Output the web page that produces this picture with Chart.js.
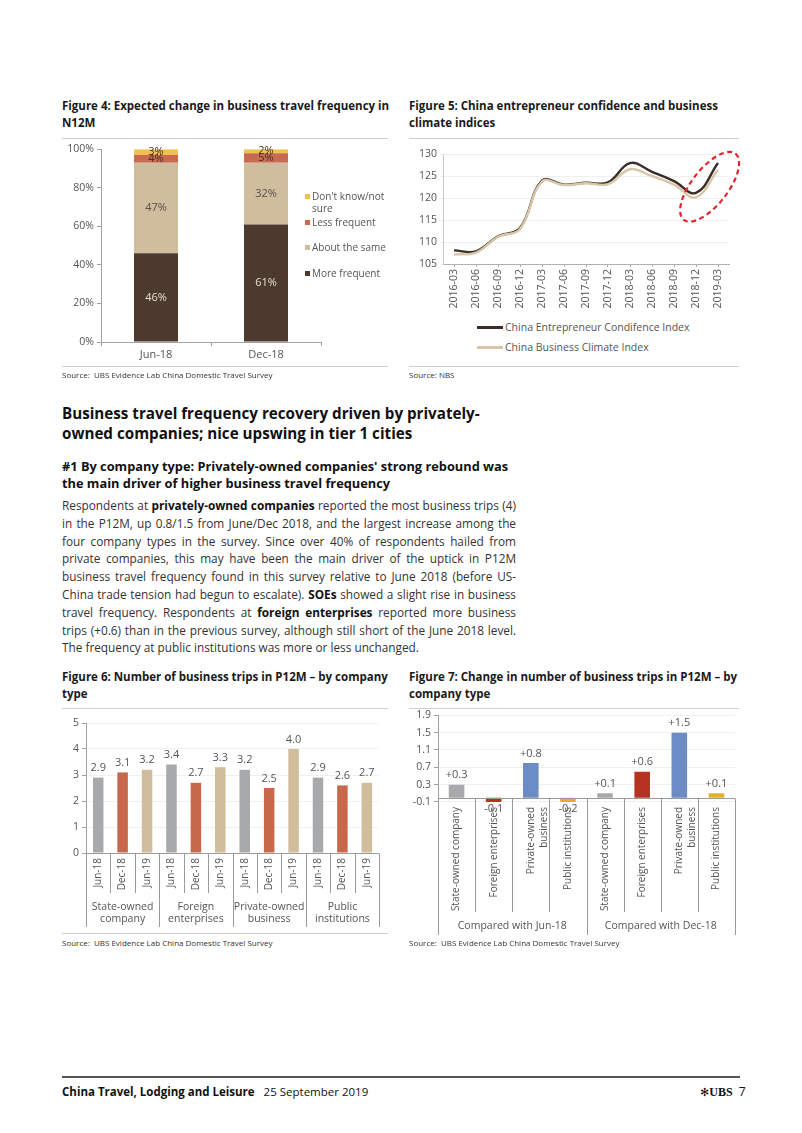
<!DOCTYPE html>
<html>
<head>
<meta charset="utf-8">
<script src="https://cdn.jsdelivr.net/npm/chart.js@4.4.1/dist/chart.umd.min.js"></script>
<style>
  body { margin: 0; background: #fff; font-family: "Open Sans", sans-serif; color: #222; }
  #page { position: relative; width: 802px; height: 1133px; overflow: hidden; background: #fff; }
  .abs { position: absolute; white-space: nowrap; }
  .ftitle { font-weight: 700; font-size: 11.5px; line-height: 17px; color: #1a1a1a; }
  .rule { position: absolute; height: 1px; background: #cfcfcf; }
  .src { font-size: 8px; color: #333; }
  .leg { font-size: 10px; color: #555; line-height: 12px; }
  .sq { position: absolute; width: 5px; height: 5px; }
  .h1 { font-weight: 700; font-size: 15.2px; line-height: 20px; color: #111; }
  .h2 { font-weight: 700; font-size: 12.8px; line-height: 17px; color: #111; }
  .body { font-size: 11.8px; line-height: 17.8px; color: #333; width: 454px; }
  .body div { text-align: justify; text-align-last: justify; white-space: nowrap; }
  .body div.last { text-align-last: left; }
  .body b { font-weight: 700; color: #111; }
  canvas { position: absolute; }
</style>
</head>
<body>
<div id="page">
  <!-- Figure 4 -->
  <div class="abs ftitle" style="left:62px;top:97px">Figure 4: Expected change in business travel frequency in<br>N12M</div>
  <div class="rule" style="left:62px;top:138px;width:326px"></div>
  <canvas id="fig4" width="262" height="230" style="left:62px;top:140px"></canvas>
  <div id="leg4"></div>
  <div class="rule" style="left:62px;top:366px;width:326px"></div>
  <div class="abs src" style="left:62px;top:369px">Source:&nbsp; UBS Evidence Lab China Domestic Travel Survey</div>

  <!-- Figure 5 -->
  <div class="abs ftitle" style="left:409px;top:97px">Figure 5: China entrepreneur confidence and business<br>climate indices</div>
  <div class="rule" style="left:409px;top:138px;width:330px"></div>
  <canvas id="fig5" width="337" height="170" style="left:409px;top:145px"></canvas>
  <div id="leg5"></div>
  <div class="rule" style="left:409px;top:366px;width:330px"></div>
  <div class="abs src" style="left:409px;top:369px">Source: NBS</div>

  <!-- Text -->
  <div class="abs h1" style="left:62px;top:403px">Business travel frequency recovery driven by privately-<br>owned companies; nice upswing in tier 1 cities</div>
  <div class="abs h2" style="left:62px;top:458px">#1 By company type: Privately-owned companies' strong rebound was<br>the main driver of higher business travel frequency</div>
  <div class="abs body" style="left:62px;top:497px">
    <div>Respondents at <b>privately-owned companies</b> reported the most business trips (4)</div>
    <div>in the P12M, up 0.8/1.5 from June/Dec 2018, and the largest increase among the</div>
    <div>four company types in the survey. Since over 40% of respondents hailed from</div>
    <div>private companies, this may have been the main driver of the uptick in P12M</div>
    <div>business travel frequency found in this survey relative to June 2018 (before US-</div>
    <div>China trade tension had begun to escalate). <b>SOEs</b> showed a slight rise in business</div>
    <div>travel frequency. Respondents at <b>foreign enterprises</b> reported more business</div>
    <div>trips (+0.6) than in the previous survey, although still short of the June 2018 level.</div>
    <div class="last">The frequency at public institutions was more or less unchanged.</div>
  </div>

  <!-- Figure 6 -->
  <div class="abs ftitle" style="left:62px;top:668px">Figure 6: Number of business trips in P12M – by company<br>type</div>
  <div class="rule" style="left:62px;top:708px;width:326px"></div>
  <canvas id="fig6" width="322" height="218" style="left:62px;top:712px"></canvas>
  <div class="rule" style="left:62px;top:933px;width:326px"></div>
  <div class="abs src" style="left:62px;top:937px">Source:&nbsp; UBS Evidence Lab China Domestic Travel Survey</div>

  <!-- Figure 7 -->
  <div class="abs ftitle" style="left:409px;top:668px">Figure 7: Change in number of business trips in P12M – by<br>company type</div>
  <div class="rule" style="left:409px;top:708px;width:330px"></div>
  <canvas id="fig7" width="330" height="232" style="left:409px;top:706px"></canvas>
  <div class="abs src" style="left:409px;top:937px">Source:&nbsp; UBS Evidence Lab China Domestic Travel Survey</div>

  <!-- Footer -->
  <div style="position:absolute;left:62px;top:1076px;width:678px;height:1.5px;background:#555"></div>
  <div class="abs" style="left:62px;top:1084px;font-size:11.5px;color:#111"><b>China Travel, Lodging and Leisure</b>&nbsp;&nbsp; 25 September 2019</div>
  <div class="abs" style="left:700px;top:1083px;font-size:12px;color:#111"><span style="font-family:'DejaVu Sans';font-size:11px">✻</span><span style="font-family:'Liberation Serif';font-weight:700">UBS</span>&nbsp; 7</div>
</div>

<script>
// ---- data ----
const fig4Cats = ["Jun-18", "Dec-18"];
const fig4Names = ["More frequent", "About the same", "Less frequent", "Don't know/not sure"];
const fig4More = [46, 61];
const fig4Same = [47, 32];
const fig4Less = [4, 5];
const fig4DontKnow = [3, 2];

const fig5Labels = ["2016-03", "2016-06", "2016-09", "2016-12", "2017-03", "2017-06", "2017-09",
  "2017-12", "2018-03", "2018-06", "2018-09", "2018-12", "2019-03"];
const fig5Confidence = [108.1, 107.9, 111.3, 113.2, 124.0, 123.1, 123.5, 123.6, 128.0, 126.0, 123.9, 121.2, 128.0];
const fig5Climate = [107.2, 107.6, 111.2, 113.0, 123.8, 123.0, 123.4, 123.2, 126.6, 125.0, 123.1, 120.2, 126.5];

const fig6Periods = ["Jun-18", "Dec-18", "Jun-19"];
const fig6Groups = [["State-owned", "company"], ["Foreign", "enterprises"], ["Private-owned", "business"], ["Public", "institutions"]];
const fig6StateOwned = [2.9, 3.1, 3.2];
const fig6Foreign = [3.4, 2.7, 3.3];
const fig6Private = [3.2, 2.5, 4.0];
const fig6Public = [2.9, 2.6, 2.7];

const fig7Types = ["State-owned company", "Foreign enterprises", ["Private-owned", "business"], "Public institutions"];
const fig7Compare = ["Compared with Jun-18", "Compared with Dec-18"];
const fig7VsJun18 = [0.3, -0.1, 0.8, -0.2];
const fig7VsDec18 = [0.1, 0.6, 1.5, 0.1];
const fig7Ticks = [-0.1, 0.3, 0.7, 1.1, 1.5, 1.9];

// ---- colours ----
const fig4Colors = ["#4b3a2d", "#cfbd9d", "#c86a4f", "#f1c14f"];
const fig6Colors = ["#a8a9ab", "#c8684b", "#cfbd9b"];
const fig7Colors = ["#a9a9ab", "#b63223", "#6b8cc4", "#e2b12c"];

Chart.defaults.font.family = '"Open Sans", sans-serif';
Chart.defaults.color = "#555";
Chart.defaults.animation = false;

// labels on bars (no datalabels plugin available)
const barLabels = {
  id: "barLabels",
  afterDatasetsDraw(chart, args, opts) {
    if (!opts.format) return;
    const { ctx, chartArea } = chart;
    ctx.save();
    ctx.font = opts.font;
    ctx.textAlign = "center";
    chart.data.datasets.forEach((ds, di) => {
      chart.getDatasetMeta(di).data.forEach((bar, i) => {
        const v = ds.data[i];
        ctx.fillStyle = typeof opts.color === "function" ? opts.color(di, i) : opts.color;
        if (opts.center) {
          ctx.textBaseline = "middle";
          ctx.fillText(opts.format(v), bar.x, (bar.y + bar.base) / 2);
        } else if (v >= 0) {
          ctx.textBaseline = "bottom";
          ctx.fillText(opts.format(v), bar.x, bar.y - 4);
        } else {
          ctx.textBaseline = "top";
          ctx.fillText(opts.format(v), bar.x, Math.min(bar.y, chartArea.bottom) + 1);
        }
      });
    });
    ctx.restore();
  }
};

// separators between categories and groups, plus the zero line
const groupLines = {
  id: "groupLines",
  afterDraw(chart, args, opts) {
    if (!opts.groupSize) return;
    const { ctx, chartArea, scales } = chart;
    const x = scales.x, x2 = scales.x2;
    const y0 = Math.round(scales.y.getPixelForValue(0)) + 0.5;
    const n = chart.data.labels.length;
    ctx.save();
    ctx.strokeStyle = "#9a9a9a";
    ctx.lineWidth = 1;
    ctx.beginPath();
    ctx.moveTo(chartArea.left, y0);
    ctx.lineTo(chartArea.right, y0);
    for (let i = 0; i <= n; i++) {
      let px;
      if (i === 0) px = chartArea.left;
      else if (i === n) px = chartArea.right;
      else px = (x.getPixelForValue(i - 1) + x.getPixelForValue(i)) / 2;
      px = Math.round(px) + 0.5;
      const bottom = i % opts.groupSize === 0 ? x2.bottom : x.bottom;
      ctx.moveTo(px, y0);
      ctx.lineTo(px, bottom);
    }
    ctx.stroke();
    ctx.restore();
  }
};

// dashed red ellipse on figure 5
const ellipseMark = {
  id: "ellipseMark",
  afterDraw(chart, args, opts) {
    if (opts.at == null) return;
    const { ctx, scales } = chart;
    const cx = scales.x.getPixelForValue(opts.at);
    const cy = scales.y.getPixelForValue(opts.level);
    ctx.save();
    ctx.strokeStyle = "#e0262d";
    ctx.lineWidth = 2.2;
    ctx.setLineDash([5, 3.5]);
    ctx.beginPath();
    ctx.ellipse(cx, cy, 42, 18, -52 * Math.PI / 180, 0, Math.PI * 2);
    ctx.stroke();
    ctx.restore();
  }
};

Chart.register(barLabels, groupLines, ellipseMark);

// ---- Figure 4 ----
const fig4Data = [fig4More, fig4Same, fig4Less, fig4DontKnow];
new Chart(document.getElementById("fig4"), {
  type: "bar",
  data: {
    labels: fig4Cats,
    datasets: fig4Data.map((d, k) => ({
      label: fig4Names[k], data: d, backgroundColor: fig4Colors[k],
      barPercentage: 0.4, categoryPercentage: 1
    }))
  },
  options: {
    responsive: false,
    layout: { padding: { top: 9, right: 3 } },
    plugins: {
      legend: { display: false }, tooltip: { enabled: false },
      barLabels: {
        center: true, font: '11px "Open Sans"',
        format: v => v + "%",
        color: (di) => di === 0 ? "#e6ddd3" : (di === 1 ? "#5a5048" : "#4a3024")
      }
    },
    scales: {
      x: {
        stacked: true,
        grid: { drawOnChartArea: false, tickLength: 4, color: "#a0a0a0" },
        border: { color: "#a0a0a0" },
        ticks: { font: { size: 11 }, padding: 2 },
        afterFit: s => { s.height = 28; }
      },
      y: {
        stacked: true, min: 0, max: 100,
        grid: { drawOnChartArea: false, tickLength: 4, color: "#a0a0a0" },
        border: { color: "#a0a0a0" },
        ticks: { stepSize: 20, callback: v => v + "%", font: { size: 10.5 }, padding: 3 },
        afterFit: s => { s.width = 39; }
      }
    }
  }
});

// legend for figure 4 (top to bottom, reverse of stacking)
const leg4Tops = [190, 216, 241, 267];
const leg4 = document.getElementById("leg4");
[3, 2, 1, 0].forEach((k, j) => {
  const name = fig4Names[k].replace("know/not ", "know/not<br>");
  leg4.insertAdjacentHTML("beforeend",
    `<div class="sq" style="left:305px;top:${leg4Tops[j] + 4}px;background:${fig4Colors[k]}"></div>` +
    `<div class="abs leg" style="left:312px;top:${leg4Tops[j]}px">${name}</div>`);
});

// ---- Figure 5 ----
const fig5Series = [
  { label: "China Entrepreneur Condifence Index", data: fig5Confidence, color: "#3a2d27", order: 2 },
  { label: "China Business Climate Index", data: fig5Climate, color: "#d7c6a8", order: 1 }
];
new Chart(document.getElementById("fig5"), {
  type: "line",
  data: {
    labels: fig5Labels,
    datasets: fig5Series.map(s => ({
      label: s.label, data: s.data, borderColor: s.color, borderWidth: 2.4,
      pointRadius: 0, tension: 0.4, fill: false, order: s.order
    }))
  },
  options: {
    responsive: false,
    layout: { padding: { top: 9, right: 17 } },
    plugins: {
      legend: { display: false }, tooltip: { enabled: false },
      ellipseMark: { at: 11.62, level: 122.6 }
    },
    scales: {
      x: {
        offset: true,
        grid: { drawOnChartArea: false, tickLength: 3, color: "#b0b0b0" },
        border: { color: "#b0b0b0" },
        ticks: { minRotation: 90, maxRotation: 90, autoSkip: false, font: { size: 10.5 }, padding: 2 },
        afterFit: s => { s.height = 51; }
      },
      y: {
        min: 105, max: 130,
        grid: { color: "#efefef", tickLength: 3 },
        border: { color: "#c8c8c8" },
        ticks: { stepSize: 5, font: { size: 10.5 }, padding: 3 },
        afterFit: s => { s.width = 34; }
      }
    }
  }
});

const leg5 = document.getElementById("leg5");
const leg5Tops = [321, 341];
fig5Series.forEach((s, j) => {
  leg5.insertAdjacentHTML("beforeend",
    `<div style="position:absolute;left:477px;top:${leg5Tops[j] + 5}px;width:26px;height:2.5px;background:${s.color}"></div>` +
    `<div class="abs leg" style="left:505px;top:${leg5Tops[j]}px;font-size:10.5px">${s.label}</div>`);
});

// ---- Figure 6 ----
const fig6Values = [fig6StateOwned, fig6Foreign, fig6Private, fig6Public].flat();
new Chart(document.getElementById("fig6"), {
  type: "bar",
  data: {
    labels: fig6Groups.flatMap(() => fig6Periods),
    datasets: [{
      data: fig6Values,
      backgroundColor: fig6Values.map((v, i) => fig6Colors[i % 3]),
      barPercentage: 0.43, categoryPercentage: 1
    }]
  },
  options: {
    responsive: false,
    layout: { padding: { top: 11, right: 4, bottom: 3 } },
    plugins: {
      legend: { display: false }, tooltip: { enabled: false },
      barLabels: { font: '11px "Open Sans"', color: "#555", format: v => v.toFixed(1) },
      groupLines: { groupSize: 3 }
    },
    scales: {
      x: {
        grid: { display: false, drawTicks: false }, border: { display: false },
        ticks: { minRotation: 90, maxRotation: 90, autoSkip: false, font: { size: 10 }, padding: 5 },
        afterFit: s => { s.height = 40; }
      },
      x2: {
        type: "category", labels: fig6Groups, position: "bottom", offset: true,
        grid: { display: false, drawTicks: false }, border: { display: false },
        ticks: { maxRotation: 0, autoSkip: false, font: { size: 10.5, lineHeight: 1.05 }, padding: 9, color: "#555" },
        afterFit: s => { s.height = 34; }
      },
      y: {
        min: 0, max: 5,
        grid: { color: "#f0f0f0", tickLength: 4, tickColor: "#a0a0a0" },
        border: { color: "#a0a0a0" },
        ticks: { stepSize: 1, font: { size: 10.5 }, padding: 3 },
        afterFit: s => { s.width = 24; }
      }
    }
  }
});

// ---- Figure 7 ----
const fig7Values = fig7VsJun18.concat(fig7VsDec18);
new Chart(document.getElementById("fig7"), {
  type: "bar",
  data: {
    labels: fig7Compare.flatMap(() => fig7Types),
    datasets: [{
      data: fig7Values,
      backgroundColor: fig7Values.map((v, i) => fig7Colors[i % 4]),
      barPercentage: 0.42, categoryPercentage: 1
    }]
  },
  options: {
    responsive: false,
    layout: { padding: { top: 9, right: 4, bottom: 3 } },
    plugins: {
      legend: { display: false }, tooltip: { enabled: false },
      barLabels: { font: '11px "Open Sans"', color: "#555", format: v => (v > 0 ? "+" : "") + v.toFixed(1) },
      groupLines: { groupSize: 4 }
    },
    scales: {
      x: {
        grid: { display: false, drawTicks: false }, border: { display: false },
        ticks: { minRotation: 90, maxRotation: 90, autoSkip: false, font: { size: 10, lineHeight: 1.3 }, padding: 5 },
        afterFit: s => { s.height = 110; }
      },
      x2: {
        type: "category", labels: fig7Compare, position: "bottom", offset: true,
        grid: { display: false, drawTicks: false }, border: { display: false },
        ticks: { maxRotation: 0, autoSkip: false, font: { size: 10.5 }, padding: 8, color: "#555" },
        afterFit: s => { s.height = 23; }
      },
      y: {
        min: -0.1, max: 1.9,
        afterBuildTicks: s => { s.ticks = fig7Ticks.map(v => ({ value: v })); },
        grid: { color: "#f0f0f0", tickLength: 4, tickColor: "#a0a0a0" },
        border: { color: "#a0a0a0" },
        ticks: { font: { size: 10.5 }, padding: 3, callback: v => v.toFixed(1) },
        afterFit: s => { s.width = 29; }
      }
    }
  }
});
</script>
</body>
</html>
